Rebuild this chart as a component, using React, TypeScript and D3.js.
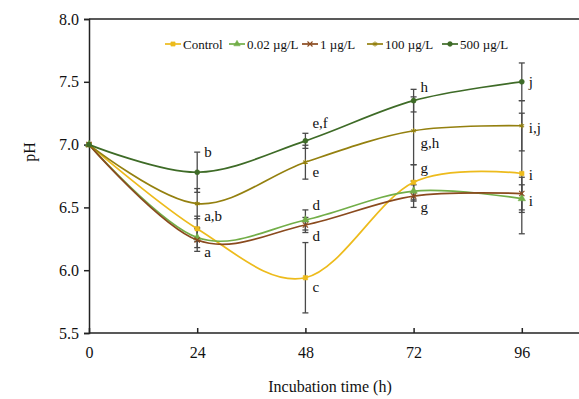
import * as d3 from "d3";
import React, { useEffect, useRef } from "react";

const times = [0, 24, 48, 72, 96];
const seriesNames = ["Control", "0.02 µg/L", "1 µg/L", "100 µg/L", "500 µg/L"];
const control = [7.0, 6.33, 5.94, 6.7, 6.77];
const conc002 = [7.0, 6.26, 6.4, 6.63, 6.57];
const conc1 = [7.0, 6.24, 6.36, 6.59, 6.61];
const conc100 = [7.0, 6.53, 6.86, 7.11, 7.15];
const conc500 = [7.0, 6.78, 7.03, 7.35, 7.5];
// standard deviations
const errControl = [0, 0.1, 0.28, 0.14, 0.48];
const err002 = [0, 0.08, 0.08, 0.08, 0.11];
const err1 = [0, 0.09, 0.06, 0.09, 0.13];
const err100 = [0, 0.12, 0.135, 0.27, 0.2];
const err500 = [0, 0.16, 0.06, 0.09, 0.15];
const xTicks = [0, 24, 48, 72, 96];
const yTicks = [5.5, 6.0, 6.5, 7.0, 7.5, 8.0];
// significance letters: time, text, pH level
const letters = [
  [24, "b", 6.94], [24, "a,b", 6.43], [24, "a", 6.145],
  [48, "e,f", 7.17], [48, "e", 6.78], [48, "d", 6.52], [48, "d", 6.27], [48, "c", 5.87],
  [72, "h", 7.46], [72, "g,h", 7.01], [72, "g", 6.81], [72, "g", 6.5],
  [96, "j", 7.5], [96, "i,j", 7.13], [96, "i", 6.76], [96, "i", 6.55],
];

const colors = ["#EDBB1C", "#72AE48", "#8A4A1E", "#94800F", "#3E6B27"];
const symbols = [d3.symbolSquare, d3.symbolTriangle, d3.symbolTimes, d3.symbolAsterisk, d3.symbolCircle];
const filled = [true, true, false, false, true];

const App = () => {
  const ref = useRef(null);

  useEffect(() => {
    const width = 579;
    const height = 399;
    const values = [control, conc002, conc1, conc100, conc500];
    const errs = [errControl, err002, err1, err100, err500];
    const font = "'Liberation Serif', 'Times New Roman', serif";

    const svg = d3.select(ref.current).attr("width", width).attr("height", height);
    svg.selectAll("*").remove();

    const x = d3.scaleLinear().domain([0, 120]).range([89, 630]);
    const y = d3.scaleLinear().domain([5.5, 8]).range([333, 19]);

    // top frame line
    svg.append("line").attr("x1", 89).attr("x2", width).attr("y1", y(8)).attr("y2", y(8))
      .attr("stroke", "#222").attr("stroke-width", 1.5);

    const yAxis = svg.append("g").attr("transform", `translate(${x(0)},0)`)
      .call(d3.axisLeft(y).tickValues(yTicks).tickSize(5).tickFormat(d3.format(".1f")));
    yAxis.select(".domain").attr("stroke", "#222").attr("stroke-width", 1.5);
    yAxis.selectAll("line").attr("stroke", "#222").attr("stroke-width", 1.5);
    yAxis.selectAll("text").attr("font-family", font).attr("font-size", 16).attr("fill", "#111").attr("x", -10);

    const xAxis = svg.append("g").attr("transform", `translate(0,${y(5.5)})`)
      .call(d3.axisBottom(x).tickValues(xTicks).tickSize(-5).tickSizeOuter(0));
    xAxis.select(".domain").attr("stroke", "#222").attr("stroke-width", 1.5)
      .attr("d", `M${x(0)},0H${width}`);
    xAxis.selectAll("line").attr("stroke", "#222").attr("stroke-width", 1.5);
    xAxis.selectAll("text").attr("font-family", font).attr("font-size", 16).attr("fill", "#111")
      .attr("y", 14);

    svg.append("text").attr("x", 330).attr("y", 392).attr("text-anchor", "middle")
      .attr("font-family", font).attr("font-size", 16).attr("fill", "#111").text("Incubation time (h)");
    svg.append("text").attr("transform", "translate(35,152) rotate(-90)").attr("text-anchor", "middle")
      .attr("font-family", font).attr("font-size", 16).attr("fill", "#111").text("pH");

    // error bars
    values.forEach((vals, si) => {
      vals.forEach((v, i) => {
        const e = errs[si][i];
        if (!e) return;
        const cx = x(times[i]);
        const g = svg.append("g").attr("stroke", "#4a4a4a").attr("stroke-width", 1.3);
        g.append("line").attr("x1", cx).attr("x2", cx).attr("y1", y(v + e)).attr("y2", y(v - e));
        [v + e, v - e].forEach((w) => {
          g.append("line").attr("x1", cx - 3).attr("x2", cx + 3).attr("y1", y(w)).attr("y2", y(w));
        });
      });
    });

    const line = d3.line().x((d) => x(d[0])).y((d) => y(d[1])).curve(d3.curveCardinal.tension(0));

    values.forEach((vals, si) => {
      const pts = times.map((t, i) => [t, vals[i]]);
      svg.append("path").attr("d", line(pts)).attr("fill", "none")
        .attr("stroke", colors[si]).attr("stroke-width", 1.7);
      const sym = d3.symbol().type(symbols[si]).size(si === 1 ? 24 : 20);
      svg.selectAll(null).data(pts).enter().append("path")
        .attr("d", sym())
        .attr("transform", (d) => `translate(${x(d[0])},${y(d[1])})`)
        .attr("fill", filled[si] ? colors[si] : "none")
        .attr("stroke", colors[si]).attr("stroke-width", filled[si] ? 0.5 : 1.1);
    });

    svg.selectAll(null).data(letters).enter().append("text")
      .attr("x", (d) => x(d[0]) + 7).attr("y", (d) => y(d[2]))
      .attr("dominant-baseline", "central")
      .attr("font-family", font).attr("font-size", 15).attr("fill", "#111")
      .text((d) => d[1]);

    // legend
    const legendX = [165, 229, 302, 367, 442];
    const legendY = 44;
    seriesNames.forEach((name, si) => {
      const lg = svg.append("g").attr("transform", `translate(${legendX[si]},${legendY})`);
      lg.append("line").attr("x1", 0).attr("x2", 16).attr("y1", 0).attr("y2", 0)
        .attr("stroke", colors[si]).attr("stroke-width", 1.7);
      lg.append("path").attr("d", d3.symbol().type(symbols[si]).size(18)())
        .attr("transform", "translate(8,0)")
        .attr("fill", filled[si] ? colors[si] : "none")
        .attr("stroke", colors[si]).attr("stroke-width", filled[si] ? 0.5 : 1.1);
      lg.append("text").attr("x", 18).attr("y", 0).attr("dominant-baseline", "central")
        .attr("font-family", font).attr("font-size", 13).attr("fill", "#111").text(name);
    });
  }, []);

  return <svg ref={ref} style={{ position: "absolute", left: 0, top: 0 }}></svg>;
};

export default App;
